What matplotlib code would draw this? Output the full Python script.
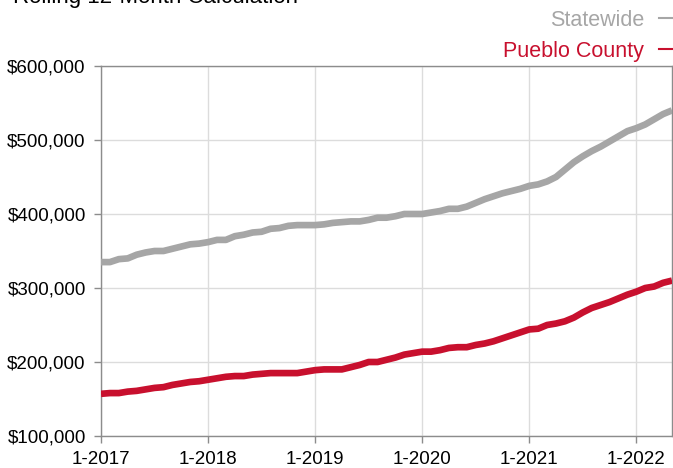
import matplotlib
matplotlib.use("Agg")
import matplotlib.pyplot as plt
from matplotlib.lines import Line2D
from matplotlib.ticker import FuncFormatter

plt.rcParams['font.family'] = ['Liberation Sans', 'DejaVu Sans']

title = "Rolling 12-Month Calculation"
series_names = ["Statewide", "Pueblo County"]
tick_labels = ["1-2017", "1-2018", "1-2019", "1-2020", "1-2021", "1-2022"]

# Monthly values, Jan 2017 - May 2022 (thousands of dollars)
statewide = [
    335, 335, 339, 340, 345, 348, 350, 350, 353, 356, 359, 360,
    362, 365, 365, 370, 372, 375, 376, 380, 381, 384, 385, 385,
    385, 386, 388, 389, 390, 390, 392, 395, 395, 397, 400, 400,
    400, 402, 404, 407, 407, 410, 415, 420, 424, 428, 431, 434,
    438, 440, 444, 450, 460, 470, 478, 485, 491, 498, 505, 512,
    516, 521, 528, 535, 540,
]
pueblo = [
    157, 158, 158, 160, 161, 163, 165, 166, 169, 171, 173, 174,
    176, 178, 180, 181, 181, 183, 184, 185, 185, 185, 185, 187,
    189, 190, 190, 190, 193, 196, 200, 200, 203, 206, 210, 212,
    214, 214, 216, 219, 220, 220, 223, 225, 228, 232, 236, 240,
    244, 245, 250, 252, 255, 260, 267, 273, 277, 281, 286, 291,
    295, 300, 302, 307, 310,
]

colors = ["#a6a6a6", "#c8102e"]

W, H = 673, 468
fig = plt.figure(figsize=(W / 100, H / 100), dpi=100)
ax = fig.add_axes([101 / W, (H - 436) / H, (672 - 101) / W, (436 - 66) / H])

months = list(range(len(statewide)))
for vals, c in zip([statewide, pueblo], colors):
    ax.plot(months, [v * 1000 for v in vals], color=c, lw=4.8,
            solid_capstyle='butt', solid_joinstyle='round', zorder=3)

ax.set_xlim(0, len(statewide) - 1)
ax.set_ylim(100000, 600000)
ax.set_yticks([100000, 200000, 300000, 400000, 500000, 600000])
ax.yaxis.set_major_formatter(FuncFormatter(lambda v, p: f"${v:,.0f}"))
ax.set_xticks([12 * i for i in range(len(tick_labels))])
ax.set_xticklabels(tick_labels)

ax.grid(True, color="#dcdcdc", lw=1, zorder=0)
for s in ax.spines.values():
    s.set_color("#8c8c8c")
    s.set_linewidth(1)
ax.tick_params(axis='both', colors="#8c8c8c", labelcolor="black",
               labelsize=13.5, length=5, width=1)
ax.tick_params(axis='y', pad=6)
ax.tick_params(axis='x', pad=6)

# title partially cut off at top (as in the reference)
fig.text(13 / W, 1 - 3.5 / H, title, fontsize=16, color="black",
         ha='left', va='baseline')

# custom legend
leg_y = [18, 49]
for name, c, y in zip(series_names, colors, leg_y):
    fig.text(644 / W, 1 - y / H, name, fontsize=15.5, color=c,
             ha='right', va='center_baseline')
    fig.add_artist(Line2D([659 / W, 672 / W], [1 - y / H, 1 - y / H],
                          transform=fig.transFigure, color=c, lw=1.5))

fig.savefig("out.png", dpi=100)
